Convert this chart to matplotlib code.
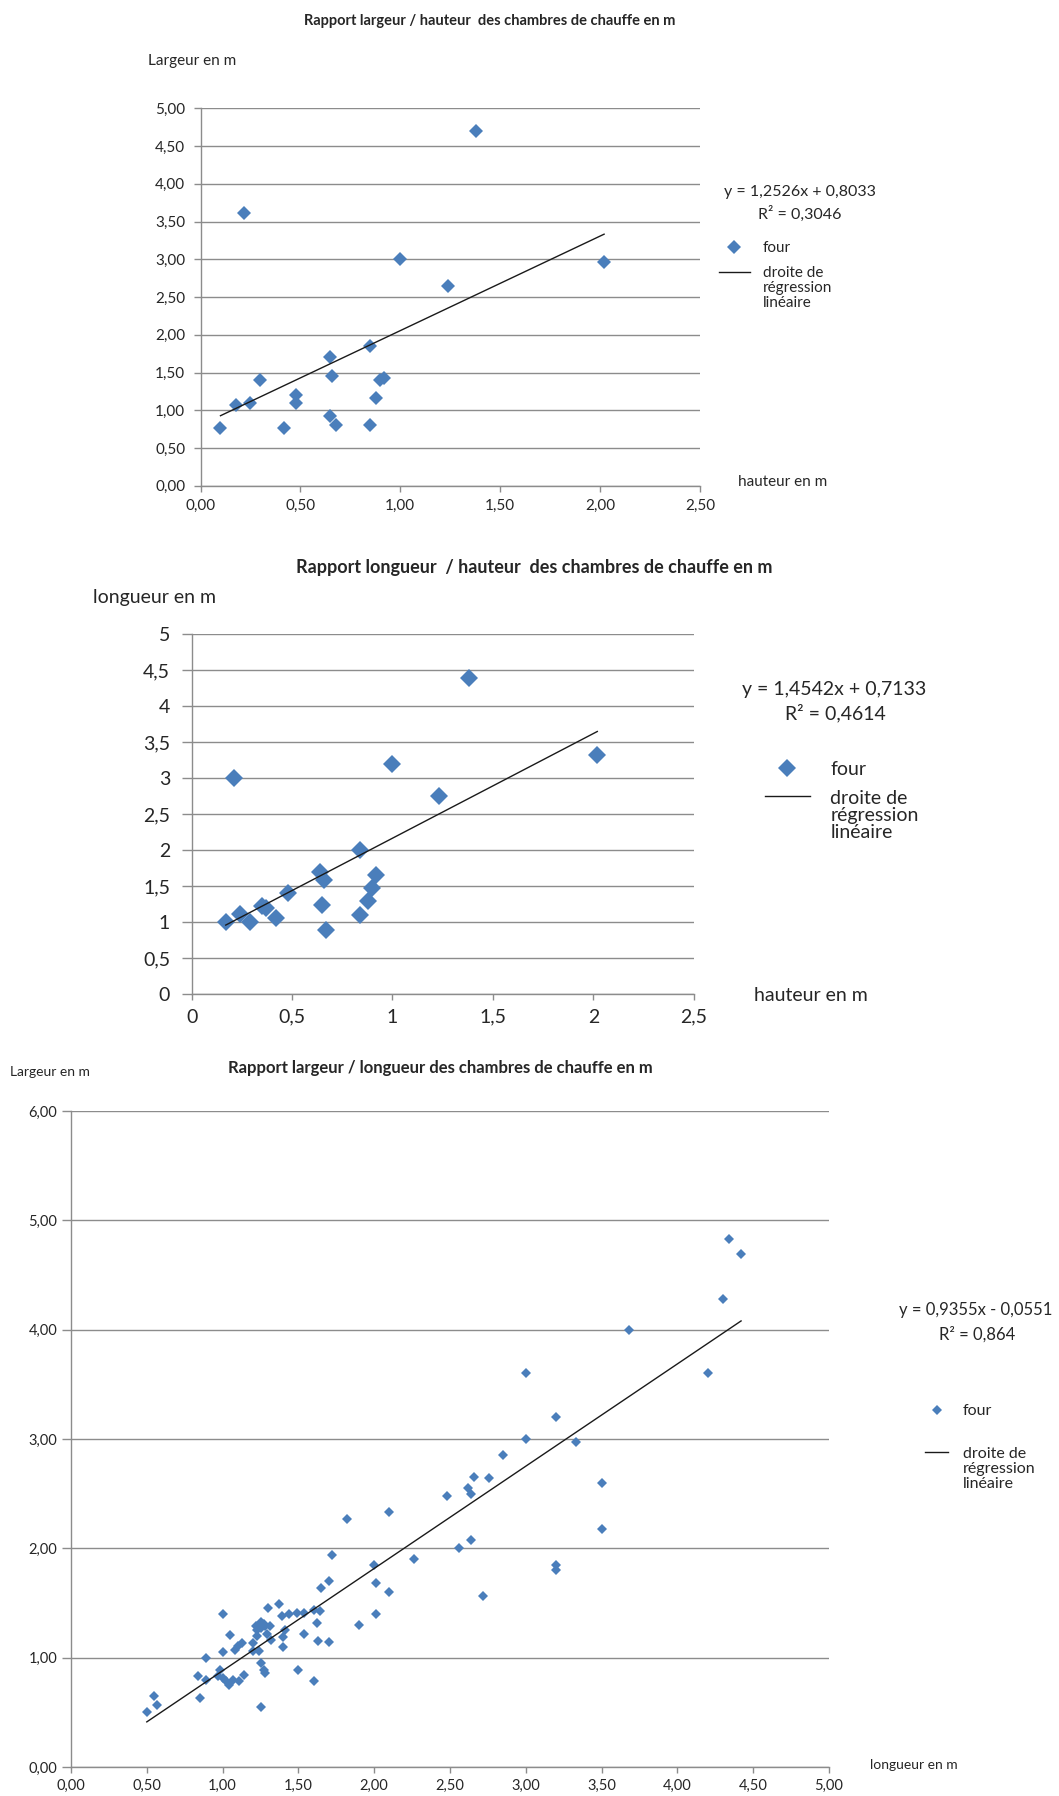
import numpy as np
import matplotlib
matplotlib.use("Agg")
import matplotlib.pyplot as plt
from matplotlib.ticker import FuncFormatter, MultipleLocator
from matplotlib.legend_handler import HandlerLine2D

plt.rcParams['font.family'] = ['Lato', 'DejaVu Sans']

BLUE = '#4A7EBB'
GRID = '#8C8C8C'
TXT = '#262626'

# ---- chart 1 : largeur / hauteur ----
hauteur_1 = [0.10, 0.18, 0.25, 0.22, 0.30, 0.42, 0.48, 0.48, 0.65, 0.66, 0.65,
             0.68, 0.85, 0.85, 0.88, 0.90, 0.92, 1.00, 1.24, 1.38, 2.02]
largeur_1 = [0.77, 1.07, 1.10, 3.61, 1.40, 0.77, 1.20, 1.10, 1.70, 1.45, 0.92,
             0.81, 1.85, 0.81, 1.16, 1.40, 1.43, 3.00, 2.65, 4.70, 2.97]
slope_1, inter_1, r2_1 = 1.2526, 0.8033, 0.3046

# ---- chart 2 : longueur / hauteur ----
hauteur_2 = [0.17, 0.24, 0.21, 0.29, 0.35, 0.37, 0.42, 0.48, 0.64, 0.66, 0.65,
             0.67, 0.84, 0.84, 0.88, 0.90, 0.92, 1.00, 1.23, 1.38, 2.02]
longueur_2 = [1.00, 1.11, 3.00, 1.00, 1.22, 1.20, 1.06, 1.41, 1.70, 1.59, 1.24,
              0.89, 2.00, 1.10, 1.29, 1.47, 1.65, 3.20, 2.76, 4.40, 3.32]
slope_2, inter_2, r2_2 = 1.4542, 0.7133, 0.4614

# ---- chart 3 : largeur / longueur ----
longueur_3 = [0.50, 0.55, 0.57, 0.85, 0.84, 0.89, 0.89, 0.97, 0.98, 1.00, 1.00,
              1.00, 1.02, 1.04, 1.05, 1.07, 1.08, 1.10, 1.11, 1.13, 1.14, 1.20,
              1.20, 1.22, 1.23, 1.24, 1.25, 1.25, 1.27, 1.28, 1.25, 1.28, 1.29,
              1.30, 1.31, 1.32, 1.25, 1.27, 1.23, 1.37, 1.39, 1.40, 1.40, 1.41,
              1.44, 1.49, 1.50, 1.54, 1.54, 1.60, 1.60, 1.62, 1.63, 1.64, 1.65,
              1.70, 1.70, 1.72, 1.82, 1.90, 2.00, 2.01, 2.01, 2.10, 2.10, 2.26,
              2.48, 2.56, 2.62, 2.64, 2.66, 2.64, 2.72, 2.76, 2.85, 3.00, 3.00,
              3.20, 3.20, 3.20, 3.33, 3.50, 3.50, 3.68, 4.20, 4.30, 4.34, 4.42]
largeur_3 = [0.50, 0.65, 0.57, 0.63, 0.83, 0.80, 1.00, 0.83, 0.89, 0.81, 1.40,
             1.05, 0.79, 0.75, 1.21, 0.80, 1.07, 1.11, 0.79, 1.13, 0.84, 1.13,
             1.06, 1.29, 1.25, 1.06, 1.33, 0.95, 0.89, 0.86, 0.55, 1.29, 1.22,
             1.45, 1.29, 1.16, 1.27, 1.31, 1.20, 1.49, 1.38, 1.19, 1.10, 1.25,
             1.40, 1.41, 0.89, 1.41, 1.22, 1.44, 0.79, 1.32, 1.15, 1.43, 1.64,
             1.70, 1.14, 1.94, 2.27, 1.30, 1.85, 1.68, 1.40, 2.33, 1.60, 1.90,
             2.48, 2.00, 2.55, 2.50, 2.65, 2.08, 1.56, 2.64, 2.85, 3.60, 3.00,
             3.20, 1.85, 1.80, 2.97, 2.60, 2.18, 4.00, 3.60, 4.28, 4.83, 4.69]
slope_3, inter_3, r2_3 = 0.9355, -0.0551, 0.864

W, H = 1059, 1796
fig = plt.figure(figsize=(W / 100, H / 100), dpi=100)


def fx(px):
    return px / W


def fy(py):
    return 1 - py / H


def comma_fmt(nd):
    def f(v, pos):
        if nd == 0:
            s = '%g' % round(v, 2)
        else:
            s = '%.*f' % (nd, v)
        return s.replace('.', ',')
    return FuncFormatter(f)


def num(v, nd):
    return ('%.*f' % (nd, v)).replace('.', ',')


class FirstLineHandler(HandlerLine2D):
    # put the line sample next to the first line of a multi-line label
    def __init__(self, shift, **kw):
        super().__init__(**kw)
        self.shift = shift

    def create_artists(self, legend, orig_handle, xdescent, ydescent, width,
                       height, fontsize, trans):
        arts = super().create_artists(legend, orig_handle, xdescent, ydescent,
                                      width, height, fontsize, trans)
        for a in arts:
            a.set_ydata(np.asarray(a.get_ydata()) + self.shift * fontsize)
        return arts


def make_axes(left, top, right, bottom, xmax, ymax, xstep, ystep, nd, fs,
              ylen, ypad, xpad):
    ax = fig.add_axes([fx(left), fy(bottom), fx(right - left), (bottom - top) / H])
    ax.set_xlim(0, xmax)
    ax.set_ylim(0, ymax)
    ax.xaxis.set_major_locator(MultipleLocator(xstep))
    ax.yaxis.set_major_locator(MultipleLocator(ystep))
    ax.xaxis.set_major_formatter(comma_fmt(nd))
    ax.yaxis.set_major_formatter(comma_fmt(nd))
    ax.yaxis.grid(True, color=GRID, lw=1.0)
    ax.set_axisbelow(True)
    for s in ['top', 'right']:
        ax.spines[s].set_visible(False)
    for s in ['left', 'bottom']:
        ax.spines[s].set_color(GRID)
        ax.spines[s].set_linewidth(1.0)
    ax.tick_params(direction='out', width=1.0, color=GRID,
                   labelsize=fs, labelcolor=TXT)
    ax.tick_params(axis='y', length=ylen, pad=ypad)
    ax.tick_params(axis='x', length=4.5, pad=xpad)
    return ax


def draw(ax, x, y, slope, inter, ms):
    pts, = ax.plot(x, y, ls='none', marker='D', ms=ms, color=BLUE,
                   markeredgewidth=0, zorder=3)
    xs = np.array([min(x), max(x)])
    reg, = ax.plot(xs, slope * xs + inter, color='#1a1a1a', lw=1.0, zorder=4)
    return pts, reg


def legend(ax, pts, reg, x, y, fs, hlen, hpad, lspace, shift, linesp):
    leg = ax.legend([pts, reg], ['four', 'droite de\nrégression\nlinéaire'],
                    loc='upper left', bbox_to_anchor=(fx(x), fy(y)),
                    bbox_transform=fig.transFigure, frameon=False, numpoints=1,
                    handlelength=hlen, handletextpad=hpad, labelspacing=lspace,
                    borderpad=0, borderaxespad=0, prop={'size': fs},
                    labelcolor=TXT, handler_map={reg: FirstLineHandler(shift)})
    for t in leg.get_texts():
        t.set_linespacing(linesp)
    return leg


# ===================== chart 1 =====================
ax1 = make_axes(200.5, 108.4, 700, 485.8, 2.5, 5.0, 0.5, 0.5, 2, 11, 5, 6, 5)
p1, l1 = draw(ax1, hauteur_1, largeur_1, slope_1, inter_1, 6.8)
fig.text(fx(490), fy(20.6), "Rapport largeur / hauteur  des chambres de chauffe en m",
         ha='center', va='center', fontsize=10.5, fontweight='bold', color=TXT)
fig.text(fx(148), fy(61), "Largeur en m", ha='left', va='center', fontsize=11, color=TXT)
fig.text(fx(738), fy(481.5), "hauteur en m", ha='left', va='center', fontsize=11, color=TXT)
fig.text(fx(800), fy(192), "y = %sx + %s" % (num(slope_1, 4), num(inter_1, 4)),
         ha='center', va='center', fontsize=11.5, color=TXT)
fig.text(fx(800), fy(214), "R² = %s" % num(r2_1, 4),
         ha='center', va='center', fontsize=11.5, color=TXT)
legend(ax1, p1, l1, 719, 241, 11, 2.0, 0.85, 0.7, 1.05, 1.1)

# ===================== chart 2 =====================
ax2 = make_axes(191.6, 634.4, 693.7, 994.2, 2.5, 5.0, 0.5, 0.5, 0, 14, 7.5, 8, 6)
p2, l2 = draw(ax2, hauteur_2, longueur_2, slope_2, inter_2, 9.0)
fig.text(fx(534), fy(568), "Rapport longueur  / hauteur  des chambres de chauffe en m",
         ha='center', va='center', fontsize=13, fontweight='bold', color=TXT)
fig.text(fx(93), fy(597), "longueur en m", ha='left', va='center', fontsize=14, color=TXT)
fig.text(fx(754), fy(995), "hauteur en m", ha='left', va='center', fontsize=14, color=TXT)
fig.text(fx(834), fy(689), "y = %sx + %s" % (num(slope_2, 4), num(inter_2, 4)),
         ha='center', va='center', fontsize=14, color=TXT)
fig.text(fx(835), fy(713), "R² = %s" % num(r2_2, 4),
         ha='center', va='center', fontsize=14, color=TXT)
legend(ax2, p2, l2, 765, 761, 14, 2.3, 1.05, 0.6, 1.0, 1.0)

# ===================== chart 3 =====================
ax3 = make_axes(71, 1111, 829, 1767, 5.0, 6.0, 0.5, 1.0, 2, 10.5, 6.5, 3.5, 4)
p3, l3 = draw(ax3, longueur_3, largeur_3, slope_3, inter_3, 5.5)
fig.text(fx(440), fy(1068), "Rapport largeur / longueur des chambres de chauffe en m",
         ha='center', va='center', fontsize=12, fontweight='bold', color=TXT)
fig.text(fx(10), fy(1072), "Largeur en m", ha='left', va='center', fontsize=10, color=TXT)
fig.text(fx(870), fy(1765), "longueur en m", ha='left', va='center', fontsize=10, color=TXT)
fig.text(fx(976), fy(1310), "y = %sx - %s" % (num(slope_3, 4), num(-inter_3, 4)),
         ha='center', va='center', fontsize=12, color=TXT)
fig.text(fx(977), fy(1334), "R² = %s" % num(r2_3, 3),
         ha='center', va='center', fontsize=12, color=TXT)
legend(ax3, p3, l3, 925, 1404, 11.5, 1.45, 0.9, 1.8, 1.05, 1.1)

fig.savefig('out.png', dpi=100)
